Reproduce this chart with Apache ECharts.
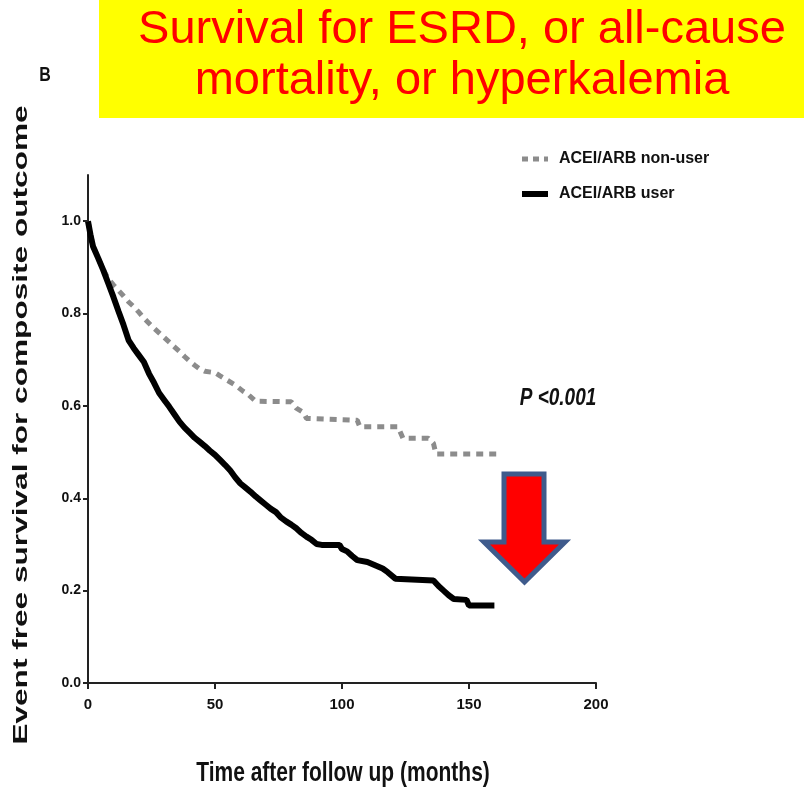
<!DOCTYPE html>
<html>
<head>
<meta charset="utf-8">
<script src="https://cdn.jsdelivr.net/npm/echarts@6/dist/echarts.min.js"></script>
<style>
  html, body { margin: 0; padding: 0; background: #fff; }
  #chart { width: 804px; height: 789px; }
</style>
</head>
<body>
<div id="chart"></div>
<script>
// Kaplan-Meier estimates: follow-up month and event-free survival
const nonUserMonths = [0, 2, 4, 6, 8, 10, 12, 14, 16, 18, 20, 22, 24, 26, 28, 30, 32, 34, 36, 38, 40, 42, 44, 46, 50, 52, 55, 58, 61, 63, 66, 80, 82, 85, 86, 106, 107, 122, 124, 134, 136, 137, 161];
const nonUserSurvival = [1.0, 0.945, 0.92, 0.895, 0.875, 0.862, 0.85, 0.838, 0.825, 0.815, 0.803, 0.79, 0.779, 0.768, 0.758, 0.748, 0.738, 0.728, 0.718, 0.707, 0.697, 0.688, 0.68, 0.675, 0.672, 0.665, 0.655, 0.645, 0.632, 0.625, 0.61, 0.609, 0.595, 0.585, 0.573, 0.569, 0.555, 0.555, 0.53, 0.53, 0.519, 0.496, 0.496];

const userMonths = [0, 1, 2, 4, 6, 8, 10, 12, 14, 16, 18, 20, 22, 24, 26, 28, 30, 32, 34, 36, 38, 40, 42, 44, 46, 48, 50, 52, 54, 56, 58, 60, 62, 64, 66, 68, 70, 72, 74, 76, 78, 80, 82, 84, 86, 88, 90, 92, 99, 100, 102, 104, 106, 110, 113, 116, 118, 121, 136, 138, 140, 142, 144, 149, 150, 160];
const userSurvival = [1.0, 0.97, 0.945, 0.92, 0.894, 0.865, 0.836, 0.805, 0.775, 0.742, 0.725, 0.71, 0.695, 0.67, 0.65, 0.628, 0.613, 0.598, 0.582, 0.566, 0.553, 0.542, 0.531, 0.522, 0.513, 0.503, 0.494, 0.483, 0.472, 0.46, 0.445, 0.432, 0.423, 0.414, 0.404, 0.395, 0.386, 0.377, 0.37, 0.358, 0.35, 0.343, 0.335, 0.325, 0.317, 0.31, 0.301, 0.299, 0.299, 0.29, 0.285, 0.275, 0.266, 0.262, 0.255, 0.248, 0.24, 0.226, 0.222, 0.21, 0.2, 0.19, 0.182, 0.18, 0.168, 0.168];

const seriesNames = ['ACEI/ARB non-user', 'ACEI/ARB user'];
const yTicks = [0, 0.2, 0.4, 0.6, 0.8, 1.0];
const xTicks = [0, 50, 100, 150, 200];

const pairs = (xs, ys) => xs.map((x, i) => [x, ys[i]]);

const sans = '"Liberation Sans", Arial, Helvetica, sans-serif';
const chart = echarts.init(document.getElementById('chart'), null, { renderer: 'canvas' });

chart.setOption({
  backgroundColor: '#ffffff',
  animation: false,
  grid: { left: 88, top: 175, right: 208, bottom: 106, outerBoundsMode: 'none', containLabel: false },
  legend: {
    orient: 'vertical',
    left: 514,
    top: 146,
    itemGap: 19,
    itemWidth: 26,
    itemHeight: 10,
    // plain line samples, no marker
    itemStyle: { opacity: 0 },
    textStyle: { fontFamily: sans, fontWeight: 'bold', fontSize: 16, color: '#111', padding: [0, 0, 0, 6] },
    data: [
      { name: seriesNames[0], lineStyle: { color: '#8c8c8c', width: 5, type: [6, 5], cap: 'butt' } },
      { name: seriesNames[1], lineStyle: { color: '#000000', width: 6 } }
    ]
  },
  xAxis: {
    type: 'value',
    min: 0,
    max: 200,
    interval: 50,
    axisLine: { show: true, lineStyle: { color: '#222', width: 2 } },
    axisTick: { show: true, length: 6, lineStyle: { color: '#222', width: 2 }, customValues: xTicks },
    axisLabel: { fontFamily: sans, fontWeight: 'bold', fontSize: 15, color: '#111', margin: 14, customValues: xTicks },
    splitLine: { show: false }
  },
  yAxis: {
    type: 'value',
    min: 0,
    max: 1.1,
    axisLine: { show: true, lineStyle: { color: '#222', width: 2 } },
    axisTick: { show: true, length: 5, lineStyle: { color: '#222', width: 2 }, customValues: yTicks },
    axisLabel: {
      fontFamily: sans, fontWeight: 'bold', fontSize: 14, color: '#111', margin: 7,
      customValues: yTicks,
      formatter: v => v.toFixed(1)
    },
    splitLine: { show: false }
  },
  series: [
    {
      name: seriesNames[0],
      type: 'line',
      symbol: 'none',
      data: pairs(nonUserMonths, nonUserSurvival),
      lineStyle: { color: '#8c8c8c', width: 5, type: [7, 6], cap: 'butt' },
      itemStyle: { color: '#8c8c8c' },
      z: 2
    },
    {
      name: seriesNames[1],
      type: 'line',
      symbol: 'none',
      data: pairs(userMonths, userSurvival),
      lineStyle: { color: '#000000', width: 6 },
      itemStyle: { color: '#000000' },
      z: 3
    }
  ],
  graphic: [
    {
      type: 'rect',
      shape: { x: 99, y: 0, width: 705, height: 118 },
      style: { fill: '#ffff00' },
      z: 0
    },
    {
      type: 'text',
      x: 462, y: 30,
      style: {
        text: 'Survival for ESRD, or all-cause',
        fill: '#ff0000',
        font: '47px ' + sans,
        textAlign: 'center', textVerticalAlign: 'middle'
      },
      z: 1
    },
    {
      type: 'text',
      x: 462, y: 81,
      style: {
        text: 'mortality, or hyperkalemia',
        fill: '#ff0000',
        font: '47px ' + sans,
        textAlign: 'center', textVerticalAlign: 'middle'
      },
      z: 1
    },
    {
      type: 'text',
      x: 45, y: 75,
      scaleY: 1.3,
      style: {
        text: 'B', fill: '#111',
        font: 'bold 16px ' + sans,
        textAlign: 'center', textVerticalAlign: 'middle'
      }
    },
    // axis titles, drawn tall and narrow like the rest of the figure lettering
    {
      type: 'text',
      x: 21, y: 425,
      rotation: Math.PI / 2,
      scaleX: 1.58,
      style: {
        text: 'Event free survival for composite outcome', fill: '#111',
        font: 'bold 20px ' + sans,
        textAlign: 'center', textVerticalAlign: 'middle'
      }
    },
    {
      type: 'text',
      x: 343, y: 773,
      scaleY: 1.3,
      style: {
        text: 'Time after follow up (months)', fill: '#111',
        font: 'bold 21px ' + sans,
        textAlign: 'center', textVerticalAlign: 'middle'
      }
    },
    {
      type: 'text',
      x: 558, y: 398,
      scaleY: 1.25,
      style: {
        text: 'P <0.001', fill: '#111',
        font: 'italic bold 19px ' + sans,
        textAlign: 'center', textVerticalAlign: 'middle'
      }
    },
    {
      type: 'polygon',
      shape: {
        points: [[504, 474], [544, 474], [544, 542], [565, 542], [524.5, 582], [484, 542], [504, 542]]
      },
      style: { fill: '#ff0000', stroke: '#3f5b8c', lineWidth: 5, lineJoin: 'miter' },
      z: 5
    }
  ]
});
</script>
</body>
</html>
